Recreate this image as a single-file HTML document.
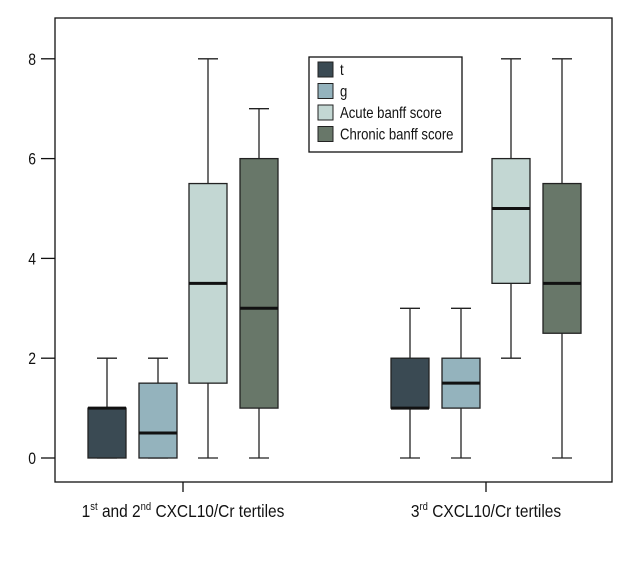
<!DOCTYPE html>
<html><head><meta charset="utf-8"><style>
body{margin:0;background:#fff;}
svg text{font-family:"Liberation Sans Narrow","Liberation Sans",sans-serif;fill:#111;}
</style></head><body>
<svg width="640" height="560">
<g id="plot"></g>
</svg>
<script>
const categories=["1st and 2nd CXCL10/Cr tertiles","3rd CXCL10/Cr tertiles"];
const seriesNames=["t","g","Acute banff score","Chronic banff score"];
const seriesColors=["#3a4a53","#94b3bd","#c3d7d3","#687769"];
// [min,q1,median,q3,max] per series, per category
const tStats=[[0,0,1,1,2],[0,1,1,2,3]];
const gStats=[[0,0,0.5,1.5,2],[0,1,1.5,2,3]];
const acuteStats=[[0,1.5,3.5,5.5,8],[2,3.5,5,6,8]];
const chronicStats=[[0,1,3,6,7],[0,2.5,3.5,5.5,8]];
const yTicks=[0,2,4,6,8];

const NS="http://www.w3.org/2000/svg";
const g=document.getElementById('plot');
function mk(t,a,p){const e=document.createElementNS(NS,t);for(const k in a)e.setAttribute(k,a[k]);(p||g).appendChild(e);return e;}
const L=55,R=612,T=18,B=482;
const y=v=>458-v*49.9;
const catX=i=>183+i*303;
const offs=[-76,-25,25,76];
const allStats=[tStats,gStats,acuteStats,chronicStats];
const frame=mk('rect',{x:L,y:T,width:R-L,height:B-T,fill:'none',stroke:'#111','stroke-width':1.3});


yTicks.forEach(v=>{
  const l=mk('line',{x1:41,x2:L,y1:y(v),y2:y(v),stroke:'#111','stroke-width':1.3});
  
  
  const t=mk('text',{x:0,y:0,'text-anchor':'end','font-size':17,transform:'translate(36,'+(y(v)+6)+') scale(0.82,1)'});
  t.textContent=v;
  
  
});
function addSpan(t,txt,size,dy){const s=document.createElementNS(NS,'tspan');s.textContent=txt;if(size)s.setAttribute('font-size',size);if(dy)s.setAttribute('dy',dy);t.appendChild(s);}
categories.forEach((c,i)=>{
  const l=mk('line',{x1:catX(i),x2:catX(i),y1:B,y2:B+10,stroke:'#111','stroke-width':1.3});
  
  
  const wrap=mk('g',{transform:'translate('+catX(i)+',517) scale(0.86,1)'});
  const t=mk('text',{x:0,y:0,'text-anchor':'middle','font-size':18},wrap);
  
  
  const m=c.match(/^(\d)(st|rd)(.*?)(?:(\d)(nd))?( CXCL.*)$/);
  if(m){
    addSpan(t,m[1]);
    addSpan(t,m[2],11,-7);
    if(m[5]){
      addSpan(t,m[3]+m[4],null,7);
      addSpan(t,m[5],11,-7);
    }
    addSpan(t,m[6],null,7);
  } else t.textContent=c;
});
const hw=19;
allStats.forEach((st,si)=>{
  st.forEach((d,ci)=>{
    const cx=catX(ci)+offs[si];
    const [mn,q1,md,q3,mx]=d;
    const grp=mk('g',{});
    
    
    mk('line',{x1:cx,x2:cx,y1:y(mx),y2:y(q3),stroke:'#222','stroke-width':1.3},grp);
    mk('line',{x1:cx,x2:cx,y1:y(q1),y2:y(mn),stroke:'#222','stroke-width':1.3},grp);
    mk('line',{x1:cx-10,x2:cx+10,y1:y(mx),y2:y(mx),stroke:'#222','stroke-width':1.3},grp);
    mk('line',{x1:cx-10,x2:cx+10,y1:y(mn),y2:y(mn),stroke:'#222','stroke-width':1.3},grp);
    mk('rect',{x:cx-hw,y:y(q3),width:2*hw,height:Math.max(y(q1)-y(q3),0.5),fill:seriesColors[si],stroke:'#222','stroke-width':1.3},grp);
    mk('line',{x1:cx-hw,x2:cx+hw,y1:y(md),y2:y(md),stroke:'#111','stroke-width':3},grp);
  });
});
const lg=mk('g',{});


mk('rect',{x:309,y:57,width:153,height:95,fill:'#fff',stroke:'#111','stroke-width':1.3},lg);
seriesNames.forEach((n,i)=>{
  const e=mk('g',{},lg);
  
  
  mk('rect',{x:318,y:62+i*21.5,width:15,height:15,fill:seriesColors[i],stroke:'#222','stroke-width':1},e);
  const t=mk('text',{x:0,y:0,'font-size':16,transform:'translate(340,'+(75+i*21.5)+') scale(0.82,1)'},e);
  t.textContent=n;
});
</script>
</body></html>
